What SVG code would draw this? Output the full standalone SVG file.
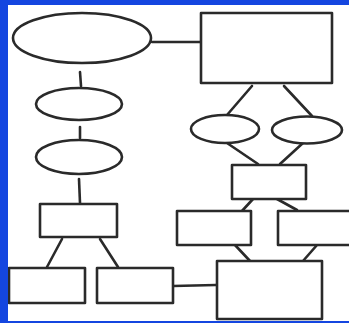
<svg xmlns="http://www.w3.org/2000/svg" width="349" height="323" viewBox="0 0 349 323">
<style>
.n{fill:#fff;stroke:#2a2a2a;stroke-width:2.6;stroke-linejoin:round}
.c{fill:none;stroke:#2a2a2a;stroke-width:2.6;stroke-linecap:round}
</style>
<defs><filter id="soft"><feGaussianBlur stdDeviation="0.45"/></filter></defs>
<rect x="0" y="0" width="349" height="323" fill="#fff"/>
<g filter="url(#soft)">
<g id="connectors">
<line class="c" x1="152" y1="42" x2="201" y2="42"/>
<line class="c" x1="80" y1="72" x2="81" y2="86"/>
<line class="c" x1="80" y1="127" x2="80" y2="138"/>
<line class="c" x1="79" y1="179" x2="80" y2="203"/>
<line class="c" x1="62" y1="239" x2="47" y2="267"/>
<line class="c" x1="100" y1="239" x2="118" y2="267"/>
<line class="c" x1="173" y1="286" x2="216" y2="285"/>
<line class="c" x1="252" y1="86" x2="227" y2="115"/>
<line class="c" x1="284" y1="86" x2="312" y2="116"/>
<line class="c" x1="227" y1="143" x2="258" y2="164"/>
<line class="c" x1="303" y1="143" x2="280" y2="164"/>
<line class="c" x1="253" y1="199" x2="242" y2="211"/>
<line class="c" x1="277" y1="199" x2="297" y2="210"/>
<line class="c" x1="235" y1="245" x2="250" y2="261"/>
<line class="c" x1="317" y1="245" x2="303" y2="261"/>
</g>
<g id="ellipse-top"><ellipse class="n" cx="82" cy="38" rx="69" ry="25"/></g>
<g id="rect-top"><rect class="n" x="201" y="13" width="131" height="70"/></g>
<g id="ellipse-2"><ellipse class="n" cx="79" cy="104" rx="43" ry="16"/></g>
<g id="ellipse-3"><ellipse class="n" cx="79" cy="157" rx="43" ry="17"/></g>
<g id="rect-a"><rect class="n" x="40" y="204" width="77" height="33"/></g>
<g id="rect-b"><rect class="n" x="9" y="268" width="76" height="35"/></g>
<g id="rect-c"><rect class="n" x="97" y="268" width="76" height="35"/></g>
<g id="ellipse-e"><ellipse class="n" cx="225" cy="129" rx="34" ry="14"/></g>
<g id="ellipse-f"><ellipse class="n" cx="307" cy="130" rx="35" ry="13.5"/></g>
<g id="rect-g"><rect class="n" x="232" y="165" width="74" height="34"/></g>
<g id="rect-h"><rect class="n" x="177" y="211" width="74" height="34"/></g>
<g id="rect-i"><rect class="n" x="278" y="211" width="80" height="34"/></g>
<g id="rect-d"><rect class="n" x="217" y="261" width="105" height="58"/></g>
</g>
<rect x="0" y="0" width="349" height="5" fill="#1446e0"/>
<rect x="0" y="0" width="8" height="323" fill="#1446e0"/>
<rect x="0" y="321" width="349" height="2" fill="#1446e0"/>
</svg>
